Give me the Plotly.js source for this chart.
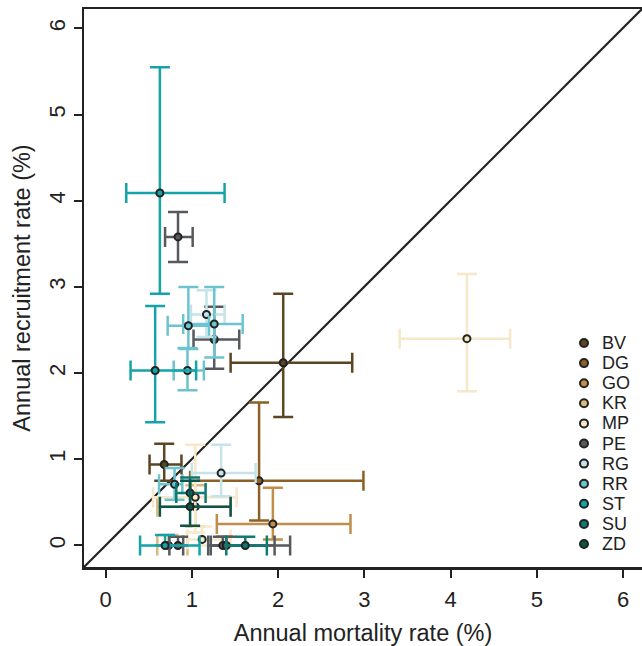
<!DOCTYPE html>
<html>
<head>
<meta charset="utf-8">
<script src="https://cdn.plot.ly/plotly-3.0.1.min.js"></script>
<style>
html,body{margin:0;padding:0;background:#fff;}
#chart{width:642px;height:646px;}
</style>
</head>
<body>
<div id="chart"></div>
<script>
// ---- data ----
const siteNames = ['BV','DG','GO','KR','MP','PE','RG','RR','ST','SU','ZD'];
const siteColors = ['#5b4522','#8b6127','#c08d4a','#d9bb80','#f6e8c9','#565a5e','#c4e4ea','#6cc4ce','#15a3a7','#0e7b73','#0c5547'];

const site        = ['BV','BV','DG','GO','KR','KR','MP','MP','MP','PE','PE','PE','PE','PE','RG','RG','RR','RR','RR','RR','ST','ST','ST','SU','SU','ZD'];
const mortality   = [2.06,0.68,1.78,1.94,1.04,0.73,4.19,1.04,1.12,0.84,1.26,0.84,1.36,1.40,1.17,1.34,0.96,1.26,0.95,0.80,0.63,0.575,0.69,0.98,1.62,0.98];
const mortLow     = [1.45,0.51,0.98,1.29,0.60,0.60,3.41,0.55,0.95,0.69,1.02,0.74,1.19,1.22,0.99,1.00,0.72,0.90,0.79,0.62,0.24,0.29,0.40,0.82,1.40,0.63];
const mortHigh    = [2.86,0.88,2.99,2.84,1.45,0.95,4.69,1.52,1.45,1.01,1.55,0.90,1.96,2.14,1.38,1.74,1.20,1.59,1.14,0.89,1.38,1.05,1.09,1.16,1.87,1.45];
const recruitment = [2.12,0.94,0.75,0.25,0.45,0.00,2.40,0.56,0.07,3.58,2.39,0.00,0.00,0.00,2.68,0.84,2.55,2.57,2.03,0.71,4.09,2.03,0.00,0.61,0.00,0.45];
const recLow      = [1.49,0.75,0.29,0.07,0.22,0.00,1.79,0.15,0.00,3.29,2.05,0.00,0.00,0.00,2.42,0.57,2.28,2.18,1.80,0.53,2.92,1.43,0.00,0.45,0.00,0.23];
const recHigh     = [2.92,1.18,1.66,0.67,0.70,0.12,3.15,1.17,0.22,3.87,2.77,0.10,0.10,0.10,2.96,1.17,3.00,3.00,2.29,0.90,5.55,2.78,0.12,0.79,0.10,0.75];

const xTicks = [0,1,2,3,4,5,6];
const yTicks = [0,1,2,3,4,5,6];
const xTitle = 'Annual mortality rate (%)';
const yTitle = 'Annual recruitment rate (%)';

// ---- build traces ----
const traces = siteNames.map((s, k) => {
  const idx = site.map((v,i)=>v===s?i:-1).filter(i=>i>=0);
  return {
    type:'scatter', mode:'markers', name:s, showlegend:false,
    x: idx.map(i=>mortality[i]), y: idx.map(i=>recruitment[i]),
    error_x:{type:'data', symmetric:false,
      array: idx.map(i=>mortHigh[i]-mortality[i]),
      arrayminus: idx.map(i=>mortality[i]-mortLow[i]),
      color: siteColors[k], thickness:2.5, width:10},
    error_y:{type:'data', symmetric:false,
      array: idx.map(i=>recHigh[i]-recruitment[i]),
      arrayminus: idx.map(i=>recruitment[i]-recLow[i]),
      color: siteColors[k], thickness:2.5, width:10},
    marker:{symbol:'circle', size:7, color:siteColors[k], line:{color:'#222222', width:2}},
    cliponaxis:false
  };
});

// ---- custom compact legend ----
const L = 84, T = 9, W = 558, H = 558;
const legX = 584, legTextX = 600, legY0 = 343, legStep = 20.1;
const annotations = siteNames.map((s,k)=>({
  xref:'paper', yref:'paper', x:(legTextX-L)/W, y:(T+H-(legY0+k*legStep))/H,
  xanchor:'left', yanchor:'middle', showarrow:false, text:s,
  font:{family:'Liberation Sans, Arial, sans-serif', size:18, color:'#222222'}
}));
const shapes = [{
  type:'line', xref:'x', yref:'y', x0:-0.25, y0:-0.25, x1:6.22, y1:6.225,
  line:{color:'#222222', width:2.2}, layer:'below'
}].concat(siteNames.map((s,k)=>({
  type:'circle', xref:'paper', yref:'paper', xsizemode:'pixel', ysizemode:'pixel',
  xanchor:(legX-L)/W, yanchor:(T+H-(legY0+k*legStep))/H,
  x0:-4, x1:4, y0:-4, y1:4,
  fillcolor:siteColors[k], line:{color:'#222222', width:2}
})));

const tickFont = {family:'Liberation Sans, Arial, sans-serif', size:22, color:'#222222'};
const titleFont = {family:'Liberation Sans, Arial, sans-serif', size:23.5, color:'#222222'};
const layout = {
  width:642, height:646,
  margin:{l:L, r:0, t:T, b:646-T-H},
  paper_bgcolor:'#ffffff', plot_bgcolor:'#ffffff',
  showlegend:false,
  font: tickFont,
  xaxis:{range:[-0.25,6.22], tickvals:xTicks, ticktext:xTicks.map(String),
    showgrid:false, zeroline:false, showline:true, mirror:true, linecolor:'#222222', linewidth:2.5,
    ticks:'outside', ticklen:8, tickwidth:2, tickcolor:'#222222', ticklabelstandoff:3,
    tickfont:tickFont, title:{text:xTitle, font:titleFont, standoff:33}},
  yaxis:{range:[-0.25,6.225], tickvals:yTicks, ticktext:yTicks.map(String), tickangle:-90,
    showgrid:false, zeroline:false, showline:true, mirror:false, linecolor:'#222222', linewidth:2.5,
    ticks:'outside', ticklen:8, tickwidth:2, tickcolor:'#222222',
    tickfont:tickFont, title:{text:yTitle, font:titleFont, standoff:8}},
  shapes: shapes,
  annotations: annotations
};
Plotly.newPlot('chart', traces, layout, {displayModeBar:false, staticPlot:true});
</script>
</body>
</html>
